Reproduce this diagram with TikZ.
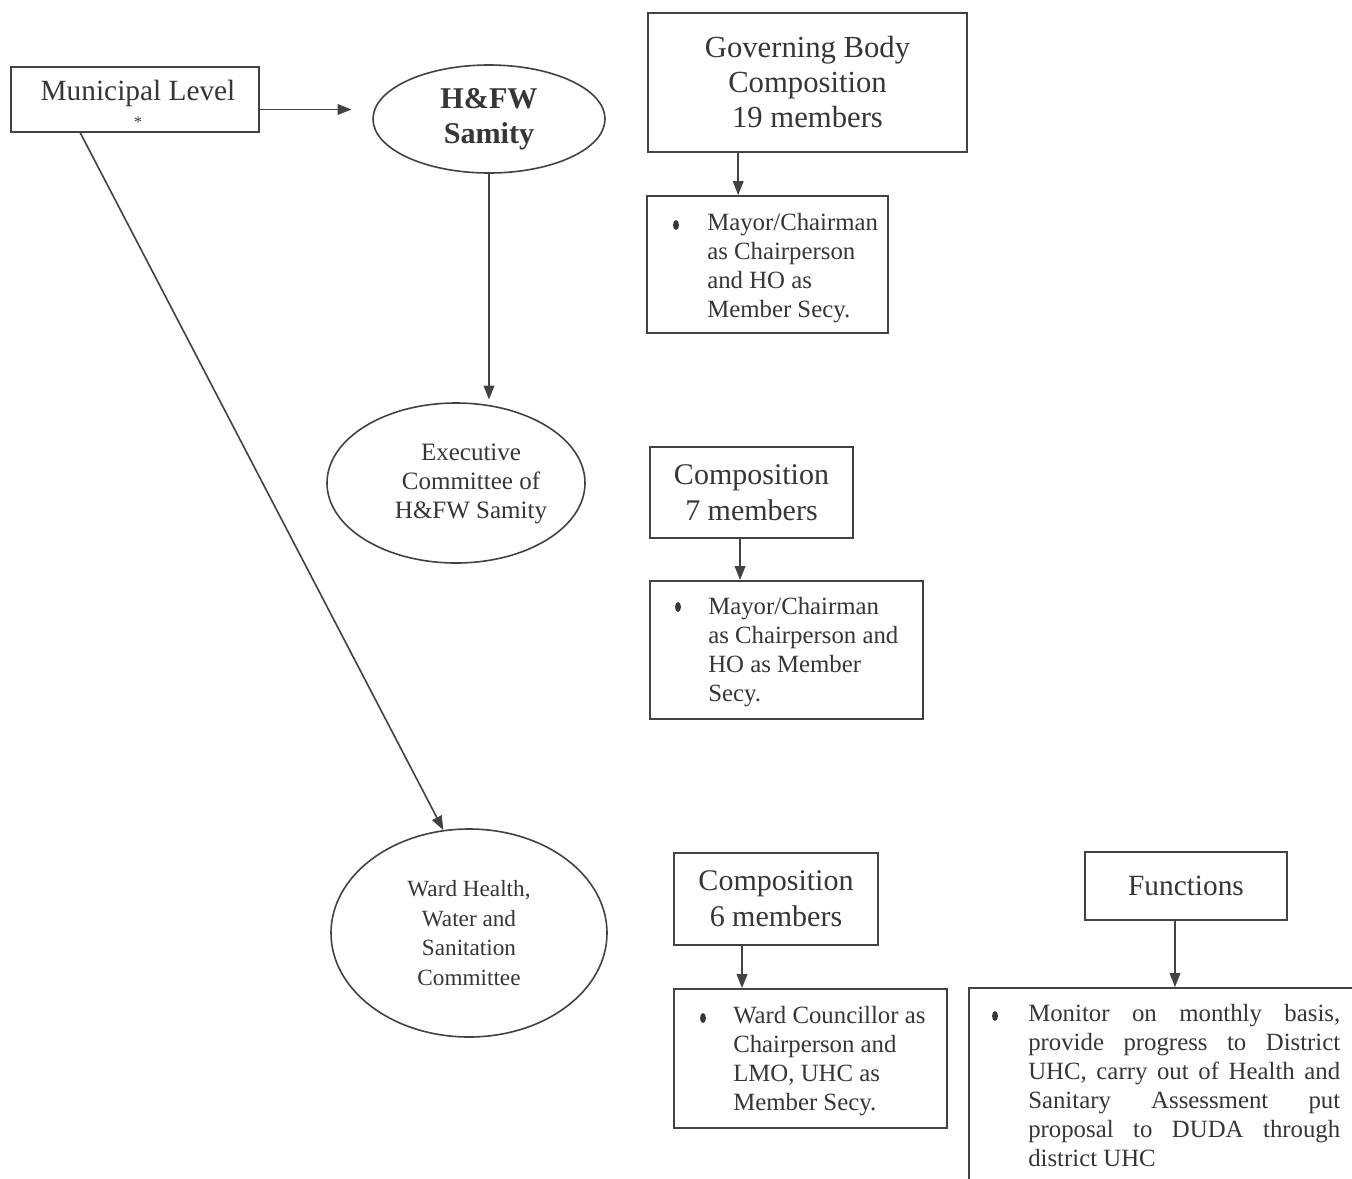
\documentclass[tikz,border=0pt]{standalone}
\usepackage{fontspec}
\setmainfont{Liberation Serif}
\usetikzlibrary{arrows.meta,shapes.geometric}
\definecolor{ink}{HTML}{363636}
\definecolor{linec}{HTML}{424242}
\begin{document}
\begin{tikzpicture}[x=0.75pt,y=-0.75pt,
  box/.style={draw=linec, line width=1.4pt, rectangle, inner sep=0pt, align=center, text=ink},
  oval/.style={draw=linec, line width=1.2pt, ellipse, inner sep=0pt, align=center, text=ink},
  txt/.style={inner sep=0pt, align=center, text=ink},
  bultext/.style={anchor=north west, inner sep=0pt, align=left, text=ink, font=\fontsize{18.6}{21.75}\selectfont},
  bulletdot/.style={ellipse, fill=ink, inner sep=0pt, minimum width=4.4pt, minimum height=7.5pt},
  arr/.style={draw=linec, line width=1.2pt, -{Triangle[length=10.5pt,width=8pt]}}]
\useasboundingbox (0,0) rectangle (1352,1178);
\clip (0,0) rectangle (1352,1178);
\fill[white] (0,0) rectangle (1352,1178);

% Municipal level
\node[box, minimum width=186pt, minimum height=48.75pt] (muni) at (135,99.5) {};
\node[txt, font=\fontsize{22}{26}\selectfont] (munitxt) at (138,93) {Municipal Level};
\node[txt, font=\fontsize{12}{12}\selectfont] (munistar) at (138,122) {*};

% H&FW Samity
\node[oval, minimum width=174pt, minimum height=81pt, font=\fontsize{22.6}{26}\selectfont\bfseries] (samity) at (489,119) {H\&FW\\Samity};

% Executive committee
\node[oval, minimum width=193.5pt, minimum height=120pt] (exec) at (456,483) {};
\node[txt, font=\fontsize{18.75}{21.75}\selectfont] (exectxt) at (471,484) {Executive\\Committee of\\H\&FW Samity};

% Ward committee
\node[oval, minimum width=207pt, minimum height=156pt, font=\fontsize{17.4}{22.2}\selectfont] (ward) at (469,933) {Ward Health,\\Water and\\Sanitation\\Committee};

% Governing body
\node[box, font=\fontsize{23}{26.25}\selectfont, minimum width=239.25pt, minimum height=104.25pt] (govbox) at (807.5,82.5) {Governing Body\\Composition\\19 members};
\node[box, minimum width=180.75pt, minimum height=102.75pt] (bul1) at (767.5,264.5) {};
\node[bulletdot] (b1) at (676,225) {};
\node[bultext] (bul1t) at (707,210) {\strut Mayor/Chairman\\as Chairperson\\and HO as\\Member Secy.};

% Composition 7
\node[box, font=\fontsize{22.5}{27}\selectfont, minimum width=152.25pt, minimum height=68.25pt] (comp7) at (751.5,492.5) {Composition\\7 members};
\node[box, minimum width=204.75pt, minimum height=103.5pt] (bul2) at (786.5,650) {};
\node[bulletdot] (b2) at (678,607) {};
\node[bultext] (bul2t) at (708,594) {\strut Mayor/Chairman\\as Chairperson and\\HO as Member\\Secy.};

% Composition 6
\node[box, font=\fontsize{22.5}{27}\selectfont, minimum width=153pt, minimum height=69pt] (comp6) at (776,899) {Composition\\6 members};
\node[box, minimum width=204.75pt, minimum height=104.25pt] (bul3) at (810.5,1058.5) {};
\node[bulletdot] (b3) at (703,1018) {};
\node[bultext] (bul3t) at (733,1003) {\strut Ward Councillor as\\Chairperson and\\LMO, UHC as\\Member Secy.};

% Functions
\node[box, font=\fontsize{22}{26}\selectfont, minimum width=151.5pt, minimum height=51pt] (func) at (1186,886) {Functions};
\node[box, minimum width=297pt, minimum height=159pt] (funcbul) at (1167,1094) {};
\node[bulletdot] (b4) at (995,1016) {};
\node[bultext, text width=234pt, align=justify] (funct) at (1028,1001) {\strut Monitor on monthly basis, \linebreak provide progress to District \linebreak UHC, carry out of Health and \linebreak Sanitary Assessment put \linebreak proposal to DUDA through \linebreak district UHC};

% connectors
\coordinate (mstart) at ([yshift=-7.5pt]muni.east);
\draw[arr, shorten >=15.5pt] (mstart) -- (mstart -| samity.west);
\draw[arr, shorten >=2pt] (samity.south) -- (samity.south |- exec.north);
\coordinate (dstart) at ([xshift=-41pt]muni.south);
\draw[arr] (dstart) -- (ward.104);
\coordinate (g1) at ([xshift=-52pt]govbox.south);
\draw[arr] (g1) -- (g1 |- bul1.north);
\coordinate (g2) at ([xshift=-8.6pt]comp7.south);
\draw[arr] (g2) -- (g2 |- bul2.north);
\coordinate (g3) at ([xshift=-25.5pt]comp6.south);
\draw[arr] (g3) -- (g3 |- bul3.north);
\coordinate (g4) at ([xshift=-8.25pt]func.south);
\draw[arr] (g4) -- (g4 |- funcbul.north);
\end{tikzpicture}
\end{document}
